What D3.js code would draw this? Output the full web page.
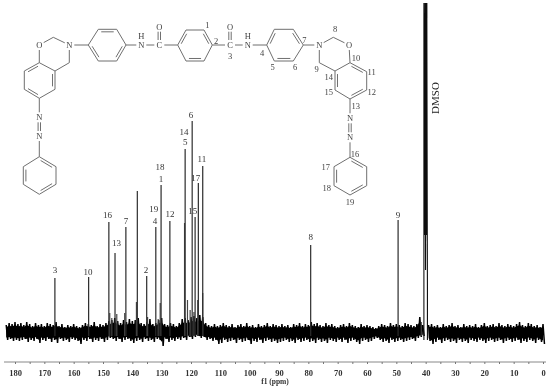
<!DOCTYPE html>
<html>
<head>
<meta charset="utf-8">
<script src="https://cdn.jsdelivr.net/npm/d3@7"></script>
<style>
	html, body { margin: 0; padding: 0; background: #fff; }
	svg { display: block; }
	text { font-family: "Liberation Serif", serif; }
</style>
</head>
<body>
<div id="graphicContainer"></div>
<script>

// ticks
var axisTicks = [180,175,170,165,160,155,150,145,140,135,130,125,120,115,110,105,100,95,90,85,80,75,70,65,60,55,50,45,40,35,30,25,20,15,10,5,0]
var axisLabels = [180,170,160,150,140,130,120,110,100,90,80,70,60,50,40,30,20,10,0]

// assigned carbon peaks
var peakPpm = [166.4,154.9,148,145.9,142.2,138.3,135.1,132,130.2,127.2,122,119.6,118.6,117.5,116,79.2,49.4]
var peakHeight = [54,55,110,79,105,141,56,105,147,111,183,211,115,149,166,87,112]

// smaller shoulders next to the main peaks
var shoulderPpm = [147.7,147,145.3,142.6,138.6,134.8,131.2,130.5,122.2,121.2,120.3,119,117.7,116,41.5]
var shoulderHeight = [19,14,18,19,30,15,13,29,109,32,22,20,32,39,10]

// DMSO multiplet, read as a trace
var dmsoPpm = [40.6,40.6,40.35,40.2,40.05,39.9,39.75,39.6,39.45,39.4,39.4]
var dmsoHeight = [-8,329,97,329,62,329,97,329,97,45,-8]

var labelText = ["3","10","16","13","7","2","19","4","18","1","12","14","5","6","15","17","11","8","9"]
var labelPpm = [166.4,155.1,148.5,145.4,142.2,135.3,132.7,132.3,130.6,130.2,127.2,122.4,122,120,119.4,118.4,116.3,79.2,49.4]
var labelHeight = [59,57,114,86,108,59,120,108,162,150,115,197,187,214,118,151,170,92,114]

// baseline noise, upper and lower envelope, one value per ppm from 183 to 0
var noiseHigh = [7,9,8,10,
	8,9,7,10,8,6,9,7,8,6,
	9,8,7,10,6,8,5,7,6,8,
	6,5,7,9,8,7,10,6,8,7,
	9,11,12,14,11,9,12,10,13,11,
	12,14,9,8,10,13,8,9,12,14,
	8,7,9,8,6,9,13,14,12,15,
	16,14,17,15,9,7,6,8,6,7,
	9,7,6,8,5,7,8,6,9,6,
	7,5,8,6,7,9,6,8,7,6,
	8,6,7,5,8,7,9,6,8,7,
	10,8,9,7,6,9,7,8,6,5,
	7,8,6,9,7,6,5,8,6,7,
	6,5,4,6,8,7,6,9,7,8,
	7,6,9,8,7,6,8,15,7,null,
	7,8,6,7,5,8,6,7,9,6,
	7,5,8,6,7,6,8,5,7,9,
	6,7,8,6,9,7,6,8,7,6,
	8,10,7,6,9,8,6,7,5,8]
var noiseLow = [-8,-7,-9,-8,
	-9,-8,-7,-10,-8,-9,-7,-11,-8,-9,
	-7,-10,-8,-11,-7,-9,-8,-10,-7,-8,
	-9,-12,-8,-9,-7,-10,-8,-9,-7,-10,
	-8,-6,-7,-9,-7,-10,-8,-7,-9,-11,
	-9,-8,-10,-7,-9,-8,-10,-7,-8,-14,
	-7,-10,-8,-9,-7,-8,-6,-8,-5,-7,
	-5,-4,-6,-5,-8,-7,-9,-8,-12,-11,
	-8,-10,-9,-8,-11,-8,-10,-9,-8,-12,
	-9,-10,-8,-11,-9,-8,-10,-9,-11,-10,
	-9,-8,-10,-9,-11,-8,-10,-9,-8,-10,
	-9,-11,-8,-10,-9,-11,-8,-9,-10,-8,
	-10,-8,-11,-9,-8,-10,-12,-9,-8,-10,
	-9,-7,-6,-8,-10,-9,-11,-8,-10,-9,
	-8,-10,-9,-8,-7,-9,-6,-5,-4,null,
	-9,-12,-10,-8,-11,-9,-8,-10,-9,-11,
	-8,-10,-9,-11,-8,-9,-10,-8,-9,-11,
	-9,-8,-10,-9,-8,-11,-9,-8,-10,-9,
	-8,-11,-9,-10,-8,-9,-11,-8,-10,-12]

var width = 550
var height = 388

var svg = d3.select("#graphicContainer").append("svg")
	.attr("width", width)
	.attr("height", height)

svg.append("defs").append("filter")
	.attr("id", "soft")
	.append("feGaussianBlur")
	.attr("stdDeviation", 0.35)

var features = svg.append("g").attr("filter", "url(#soft)")

var x = d3.scaleLinear().domain([180, 0]).range([15, 543])
var y = d3.scaleLinear().domain([0, 329]).range([332, 3])

// spectrum
var trace = d3.line()
	.defined(function(d) { return d[1] != null })
	.x(function(d) { return x(d[0]) })
	.y(function(d) { return y(d[1]) })

var noise = []
noiseHigh.forEach(function(d, i) {
	noise.push([183 - i, d])
	noise.push([182.5 - i, noiseLow[i]])
})

features.append("path")
	.attr("d", trace(noise))
	.attr("fill", "none")
	.attr("stroke", "#000")
	.attr("stroke-width", 1.5)

// the dense middle of the noise band prints solid black
var noiseCore = d3.area()
	.defined(function(d, i) { return noiseHigh[i] != null })
	.x(function(d, i) { return x(183 - i) })
	.y0(function(d, i) { return y(noiseLow[i] * 0.7) })
	.y1(function(d, i) { return y(noiseHigh[i] * 0.7) })

features.append("path")
	.attr("d", noiseCore(noiseHigh))
	.attr("fill", "#000")

features.selectAll(".shoulder")
	.data(shoulderPpm)
	.enter()
	.append("line")
	.attr("class", "shoulder")
	.attr("x1", function(d) { return x(d) })
	.attr("x2", function(d) { return x(d) })
	.attr("y1", y(-4))
	.attr("y2", function(d, i) { return y(shoulderHeight[i]) })
	.attr("stroke", "#444")
	.attr("stroke-width", 1.2)

features.selectAll(".peak")
	.data(peakPpm)
	.enter()
	.append("line")
	.attr("class", "peak")
	.attr("x1", function(d) { return x(d) })
	.attr("x2", function(d) { return x(d) })
	.attr("y1", y(-4))
	.attr("y2", function(d, i) { return y(peakHeight[i]) })
	.attr("stroke", "#2b2b2b")
	.attr("stroke-width", 1.2)

features.append("path")
	.attr("d", trace(dmsoPpm.map(function(d, i) { return [d, dmsoHeight[i]] })))
	.attr("fill", "none")
	.attr("stroke", "#111")
	.attr("stroke-width", 1.1)

features.selectAll(".peakLabel")
	.data(labelText)
	.enter()
	.append("text")
	.attr("class", "peakLabel")
	.attr("x", function(d, i) { return x(labelPpm[i]) })
	.attr("y", function(d, i) { return y(labelHeight[i]) })
	.attr("text-anchor", "middle")
	.attr("font-size", 9)
	.attr("fill", "#333")
	.text(function(d) { return d })

features.append("text")
	.attr("transform", "translate(439,98) rotate(-90)")
	.attr("text-anchor", "middle")
	.attr("font-size", 11)
	.attr("fill", "#222")
	.text("DMSO")

// axis
var xAxis = d3.axisBottom(x)
	.tickValues(axisTicks)
	.tickSize(2)
	.tickSizeOuter(0)
	.tickFormat(function(d) { return axisLabels.indexOf(d) > -1 ? d : "" })

var axisGroup = features.append("g")
	.attr("transform", "translate(0,362)")
	.call(xAxis)

axisGroup.select(".domain")
	.attr("d", "M4,0H546")
	.attr("stroke", "#888")

axisGroup.selectAll("line").attr("stroke", "#777")

axisGroup.selectAll("text")
	.attr("y", 8)
	.attr("font-family", "Liberation Serif")
	.attr("font-size", 8.5)
	.attr("font-weight", "bold")
	.attr("fill", "#333")

features.append("text")
	.attr("x", 275)
	.attr("y", 384)
	.attr("text-anchor", "middle")
	.attr("font-size", 7.5)
	.attr("font-weight", "bold")
	.attr("fill", "#333")
	.text("f1 (ppm)")

// structure
var mol = features.append("g")
var bondColor = "#6f6f6f"

function bond(a, b, cutA, cutB) {
	var dx = b[0] - a[0], dy = b[1] - a[1]
	var len = Math.sqrt(dx * dx + dy * dy)
	mol.append("line")
		.attr("x1", a[0] + dx / len * (cutA || 0))
		.attr("y1", a[1] + dy / len * (cutA || 0))
		.attr("x2", b[0] - dx / len * (cutB || 0))
		.attr("y2", b[1] - dy / len * (cutB || 0))
		.attr("stroke", bondColor)
		.attr("stroke-width", 1)
}

function ring(pts, doubles) {
	var cx = d3.mean(pts, function(d) { return d[0] })
	var cy = d3.mean(pts, function(d) { return d[1] })
	pts.forEach(function(p, i) {
		var q = pts[(i + 1) % pts.length]
		bond(p, q)
		if (doubles.indexOf(i) > -1) {
			var inset = 0.84
			var p2 = [cx + (p[0] - cx) * inset, cy + (p[1] - cy) * inset]
			var q2 = [cx + (q[0] - cx) * inset, cy + (q[1] - cy) * inset]
			bond(p2, q2, 1.5, 1.5)
		}
	})
}

function atom(t, p) {
	mol.append("text")
		.attr("x", p[0])
		.attr("y", p[1] + 3)
		.attr("text-anchor", "middle")
		.attr("font-size", 8.5)
		.attr("fill", "#444")
		.text(t)
}

function doubleBond(a, b) {
	bond([a[0] - 1.2, a[1]], [b[0] - 1.2, b[1]], 5, 5)
	bond([a[0] + 1.2, a[1]], [b[0] + 1.2, b[1]], 5, 5)
}

// left half
var oL = [39.3,45], ch2L = [53.3,37.3], nL = [69.3,45], c9L = [69.3,62.7]
var b1L = [39.3,62.7], b2L = [55,71], b3L = [55,89.3], b4L = [39.3,98.3], b5L = [24.3,89.3], b6L = [24.3,71]
ring([b1L,b2L,b3L,b4L,b5L,b6L], [1,3,5])
bond(oL, ch2L, 5, 0)
bond(ch2L, nL, 0, 5)
bond(nL, c9L, 5, 0)
bond(c9L, b2L)
bond(oL, b1L, 5, 0)
atom("O", oL)
atom("N", nL)

ring([[88.3,45],[98.3,29.3],[116.7,29.3],[126,45],[116.7,61],[98.3,61]], [1,3,5])
bond(nL, [88.3,45], 5, 0)
bond([126,45], [141.3,45], 0, 5)
atom("N", [141.3,45])
atom("H", [141.3,36])
bond([141.3,45], [159.3,45], 5, 5)
atom("C", [159.3,45])
atom("O", [159.3,26.7])
doubleBond([159.3,45], [159.3,26.7])
bond([159.3,45], [177.7,45], 5, 0)

// middle ring
ring([[177.7,45],[186,30],[204,30],[212.3,45],[204,61],[186,61]], [0,2,4])
bond([212.3,45], [230,45], 0, 5)
atom("C", [230,45])
atom("O", [230,26.7])
doubleBond([230,45], [230,26.7])
bond([230,45], [247.7,45], 5, 5)
atom("N", [247.7,45])
atom("H", [247.7,36])
bond([247.7,45], [266.7,45], 5, 0)

// right half
ring([[266.7,45],[274.3,29.3],[293.3,29.3],[303.3,45],[293.3,61],[274.3,61]], [0,2,4])
var nR = [319.3,45], ch2R = [333.3,37.3], oR = [349,45], c9R = [319.3,62.7]
var b1R = [350,62.7], b2R = [366.7,71.7], b3R = [366.7,90], b4R = [350,99], b5R = [335,90], b6R = [335,71]
bond([303.3,45], nR, 0, 5)
bond(nR, ch2R, 5, 0)
bond(ch2R, oR, 0, 5)
bond(oR, b1R, 5, 0)
bond(nR, c9R, 5, 0)
bond(c9R, b6R)
ring([b1R,b2R,b3R,b4R,b5R,b6R], [0,2,4])
atom("N", nR)
atom("O", oR)

// azo groups and end rings
function azo(top, n1, n2, ringPts) {
	bond(top, n1, 0, 5)
	atom("N", n1)
	atom("N", n2)
	doubleBond(n1, n2)
	bond(n2, ringPts[0], 5, 0)
	ring(ringPts, [0,2,4])
}

azo(b4L, [39.3,117.3], [39.3,136], [[39.3,156.7],[56,166.7],[56,184.3],[39.3,194.3],[23.3,184.3],[23.3,166.7]])
azo(b4R, [350,118.3], [350,137.3], [[350,157.3],[366.7,166.7],[366.7,185.7],[350,195],[334,185.7],[334,166.7]])

// carbon numbers on the structure
var numText = ["1","2","3","4","5","6","7","8","9","10","11","12","13","14","15","16","17","18","19"]
var numSpots = [[207.3,25],[216,40.7],[230,55.7],[262,52.7],[272.7,66.7],[295,66.7],[304.3,40],[335,29.3],[316.7,69],[356,58.3],[371.7,71.7],[371.7,91.7],[355.7,105.7],[328.7,77.3],[328.7,92.3],[355,154],[325.7,167.3],[326.7,187.7],[350,202.3]]

mol.selectAll(".num")
	.data(numText)
	.enter()
	.append("text")
	.attr("class", "num")
	.attr("x", function(d, i) { return numSpots[i][0] })
	.attr("y", function(d, i) { return numSpots[i][1] + 3 })
	.attr("text-anchor", "middle")
	.attr("font-size", 8.5)
	.attr("fill", "#444")
	.text(function(d) { return d })

</script>
</body>
</html>
